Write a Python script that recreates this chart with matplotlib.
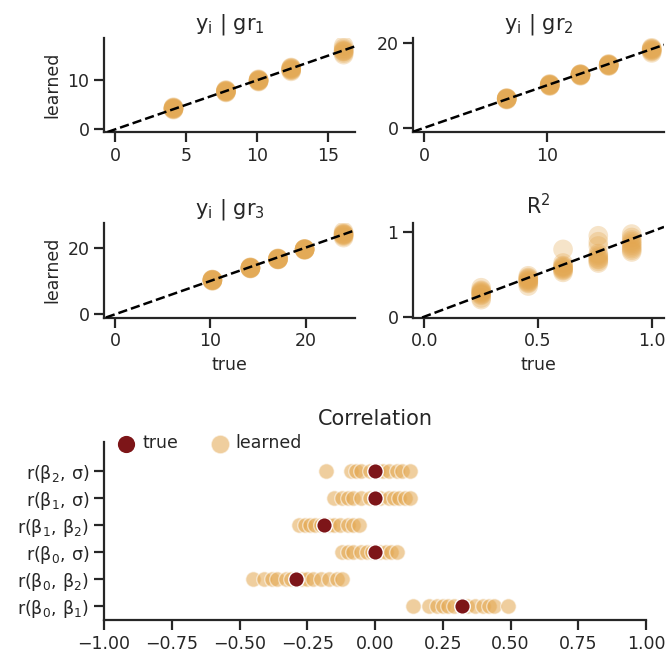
import matplotlib
matplotlib.use("Agg")
import matplotlib.pyplot as plt
import numpy as np

# ---------------- data ----------------
gr1_true = [4.1, 7.8, 10.1, 12.4, 16.1]
gr1_learned = [
    [4.0, 4.2, 4.3, 4.4, 4.2, 4.5, 4.1, 4.3],
    [7.5, 7.7, 7.8, 7.9, 7.6, 8.0, 7.8, 7.7],
    [9.7, 9.9, 10.0, 10.1, 9.8, 10.2, 10.0, 9.9],
    [11.8, 12.0, 12.2, 12.4, 12.6, 12.3, 12.1, 12.5],
    [15.2, 15.5, 15.8, 16.0, 16.2, 16.5, 17.0, 15.9],
]
gr2_true = [6.7, 10.2, 12.7, 15.0, 18.5]
gr2_learned = [
    [6.6, 6.8, 6.9, 7.0, 6.7, 6.8, 6.9, 6.8],
    [9.8, 10.0, 10.1, 10.2, 10.3, 10.0, 10.1, 9.9],
    [12.2, 12.4, 12.5, 12.6, 12.4, 12.5, 12.3, 12.6],
    [14.5, 14.7, 14.8, 14.9, 14.6, 14.8, 15.0, 14.7],
    [17.6, 17.9, 18.2, 18.5, 18.8, 18.4, 18.1, 18.6],
]
gr3_true = [10.2, 14.2, 17.1, 19.9, 24.0]
gr3_learned = [
    [10.0, 10.2, 10.3, 10.4, 10.1, 10.3, 10.2, 10.4],
    [13.7, 13.8, 13.9, 14.0, 13.9, 14.1, 13.8, 14.0],
    [16.4, 16.5, 16.6, 16.7, 16.6, 16.8, 16.5, 16.6],
    [19.3, 19.4, 19.5, 19.6, 19.5, 19.4, 19.6, 19.5],
    [23.0, 23.4, 23.7, 24.0, 24.3, 24.8, 23.8, 24.1],
]
r2_true = [0.25, 0.457, 0.61, 0.765, 0.912]
r2_learned = [
    [0.20, 0.22, 0.25, 0.26, 0.27, 0.28, 0.29, 0.30, 0.31, 0.34],
    [0.36, 0.39, 0.40, 0.41, 0.42, 0.43, 0.44, 0.45, 0.46, 0.48],
    [0.52, 0.54, 0.55, 0.56, 0.57, 0.58, 0.59, 0.60, 0.63, 0.79],
    [0.63, 0.65, 0.67, 0.68, 0.70, 0.72, 0.74, 0.83, 0.88, 0.95],
    [0.76, 0.78, 0.80, 0.82, 0.84, 0.86, 0.88, 0.90, 0.93, 0.97],
]

corr_labels = [r"$\mathrm{r(\beta_0,\,\beta_1)}$", r"$\mathrm{r(\beta_0,\,\beta_2)}$",
               r"$\mathrm{r(\beta_0,\,\sigma)}$", r"$\mathrm{r(\beta_1,\,\beta_2)}$",
               r"$\mathrm{r(\beta_1,\,\sigma)}$", r"$\mathrm{r(\beta_2,\,\sigma)}$"]
corr_true = [0.32, -0.29, 0.0, -0.19, 0.0, 0.0]
corr_learned = [
    [0.14, 0.20, 0.23, 0.25, 0.27, 0.29, 0.34, 0.37, 0.40, 0.42, 0.44, 0.49],
    [-0.45, -0.41, -0.38, -0.36, -0.33, -0.31, -0.27, -0.25, -0.23, -0.20, -0.17, -0.14, -0.12],
    [-0.12, -0.10, -0.08, -0.05, -0.03, -0.01, 0.02, 0.04, 0.06, 0.08],
    [-0.28, -0.26, -0.24, -0.22, -0.20, -0.17, -0.15, -0.13, -0.10, -0.08, -0.06],
    [-0.15, -0.12, -0.10, -0.08, -0.05, -0.02, 0.02, 0.05, 0.07, 0.09, 0.11, 0.13],
    [-0.18, -0.09, -0.07, -0.05, -0.02, 0.01, 0.03, 0.05, 0.08, 0.10, 0.13],
]
corr_xticks = [-1.00, -0.75, -0.50, -0.25, 0.00, 0.25, 0.50, 0.75, 1.00]

panel_titles = [r"$\mathrm{y_i\ |\ gr_1}$", r"$\mathrm{y_i\ |\ gr_2}$",
                r"$\mathrm{y_i\ |\ gr_3}$", r"$\mathrm{R^2}$"]

# ---------------- style ----------------
DARK = "#262626"
ORANGE = "#E3A64E"
RED = "#7D1518"
plt.rcParams.update({
    "font.family": ["DejaVu Sans"],
    "mathtext.fontset": "dejavusans",
    "axes.edgecolor": DARK,
    "axes.linewidth": 1.6,
    "xtick.color": DARK,
    "ytick.color": DARK,
    "xtick.labelcolor": DARK,
    "ytick.labelcolor": DARK,
    "text.color": DARK,
    "axes.labelcolor": DARK,
    "xtick.major.width": 1.6,
    "ytick.major.width": 1.6,
    "xtick.major.size": 7,
    "ytick.major.size": 7,
    "xtick.labelsize": 12.5,
    "ytick.labelsize": 12.5,
    "axes.labelsize": 12.5,
    "axes.titlesize": 15,
})

W, H = 667, 661
fig = plt.figure(figsize=(W / 100, H / 100), dpi=100)


def add_ax(l, r, t, b):
    return fig.add_axes([l / W, 1 - b / H, (r - l) / W, (b - t) / H])


panels = [
    (gr1_true, gr1_learned, add_ax(104, 355, 38, 132), (-0.8, 16.9), (-0.55, 18.6), [0, 5, 10, 15], [0, 10]),
    (gr2_true, gr2_learned, add_ax(413, 664, 38, 132), (-0.93, 19.5), (-1.0, 21.1), [0, 10], [0, 20]),
    (gr3_true, gr3_learned, add_ax(104, 355, 223, 317.5), (-1.2, 25.2), (-1.0, 27.4), [0, 10, 20], [0, 20]),
    (r2_true, r2_learned, add_ax(413, 664, 223, 317.5), (-0.05, 1.054), (-0.01, 1.1), [0.0, 0.5, 1.0], [0, 1]),
]

for i, (tv, lv, ax, xl, yl, xt, yt) in enumerate(panels):
    xs = np.concatenate([[t] * len(l) for t, l in zip(tv, lv)])
    ys = np.concatenate([l for l in lv])
    ax.scatter(xs, ys, s=200, color=ORANGE, alpha=0.3, edgecolors="none", zorder=2)
    ax.axline((0, 0), slope=1, color="black", ls="--", lw=1.8, zorder=3)
    ax.set_xlim(xl)
    ax.set_ylim(yl)
    ax.set_xticks(xt)
    ax.set_yticks(yt)
    if i == 3:
        ax.set_xticklabels([f"{v:.1f}" for v in xt])
    ax.spines["top"].set_visible(False)
    ax.spines["right"].set_visible(False)
    ax.set_title(panel_titles[i])
    if i in (0, 2):
        ax.set_ylabel("learned")
    if i in (2, 3):
        ax.set_xlabel("true")

# ---------------- correlation ----------------
axc = add_ax(104, 646, 441.7, 620)
ypos = np.arange(len(corr_labels))
for k, vals in enumerate(corr_learned):
    axc.scatter(vals, [ypos[k]] * len(vals), s=125, color=ORANGE, alpha=0.55,
                edgecolors="white", linewidths=1.0, zorder=2,
                label="learned" if k == 0 else None)
axc.scatter(corr_true, ypos, s=125, color=RED, edgecolors="white",
            linewidths=1.0, zorder=3, label="true")
axc.set_xlim(-1, 1)
axc.set_ylim(-0.5, 6.07)
axc.set_xticks(corr_xticks)
axc.set_xticklabels([f"{v:.2f}".replace("-", "\u2212") for v in corr_xticks])
axc.set_yticks(ypos)
axc.set_yticklabels(corr_labels)
axc.spines["top"].set_visible(False)
axc.spines["right"].set_visible(False)
axc.set_title("Correlation", pad=12)

h, lab = axc.get_legend_handles_labels()
order = [lab.index("true"), lab.index("learned")]
axc.legend([h[o] for o in order], [lab[o] for o in order], ncol=2,
           loc="upper left", bbox_to_anchor=(0.003, 1.08), frameon=False,
           fontsize=12.5, handletextpad=0.1, columnspacing=1.6,
           borderaxespad=0.0, handlelength=1.6, markerscale=1.2)

fig.savefig("out.png", dpi=100)
